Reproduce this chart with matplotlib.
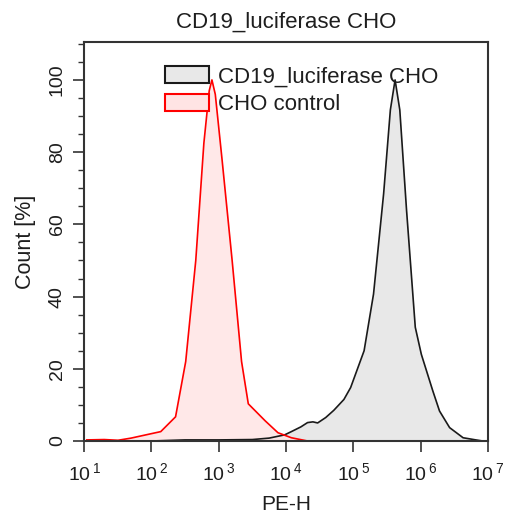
# CD19_luciferase CHO histogram overlay

import matplotlib
matplotlib.use('Agg')
import matplotlib.pyplot as plt
import numpy as np
from matplotlib.ticker import FixedLocator, LogLocator, NullFormatter
from matplotlib.patches import Patch

plt.rcParams['font.family'] = ['Liberation Sans', 'DejaVu Sans']
plt.rcParams['mathtext.fontset'] = 'custom'
plt.rcParams['mathtext.rm'] = 'Liberation Sans'

# CHO control (red)
ctrl_pe = [11, 20, 32, 50, 83, 138, 229, 324, 457, 603, 724, 794, 891,
           1122, 1585, 2188, 2754, 4898, 7586, 12023, 20893]
ctrl_count = [0.3, 0.4, 0.2, 0.8, 1.7, 2.6, 6.7, 22, 50, 82.5, 97, 100, 96,
              78, 50, 22, 10.3, 5.6, 2.3, 0.9, 0]

# CD19_luciferase CHO (black)
cd19_pe = [100, 316, 1000, 3162, 5623, 9550, 12023, 16596, 20893, 25119,
           29512, 38905, 51286, 72444, 91201, 144544, 199526, 281838, 354813,
           416869, 489779, 616595, 831764, 1023293, 1513561, 1905461,
           2691535, 4265795, 6606934, 8317638]
cd19_count = [0, 0.3, 0.3, 0.4, 0.8, 1.7, 2.6, 3.9, 5.1, 5.3,
              5.0, 6.5, 8.5, 11.5, 14.8, 25, 40.7, 68.5, 91.7,
              100, 91.7, 64, 31.5, 24, 13.9, 8.3,
              3.7, 0.9, 0.3, 0]

x_ticks = [10**k for k in range(1, 8)]
x_ticklabels = [r'$\mathregular{10^{\,%d}}$' % k for k in range(1, 8)]
y_ticks = [0, 20, 40, 60, 80, 100]

txt = '#1e1e1e'
fig = plt.figure(figsize=(5.07, 5.19), dpi=100)
ax = fig.add_axes([84/507, 1 - 441/519, 404/507, 399/519])

ax.fill_between(cd19_pe, cd19_count, 0, color='#e8e8e8', lw=0)
ax.fill_between(ctrl_pe, ctrl_count, 0, color='#ffe4e4', lw=0, alpha=0.85)
ax.plot(cd19_pe, cd19_count, color='#1a1a1a', lw=1.2)
ax.plot(ctrl_pe, ctrl_count, color='#ff0000', lw=1.2)

ax.set_xscale('log')
ax.set_xlim(10, 1e7)
ax.set_ylim(0, 110.5)

ax.xaxis.set_major_locator(FixedLocator(x_ticks))
ax.set_xticklabels(x_ticklabels)
ax.xaxis.set_minor_locator(LogLocator(base=10, subs=np.arange(2, 10)))
ax.xaxis.set_minor_formatter(NullFormatter())
ax.set_yticks(y_ticks)
ax.yaxis.set_minor_locator(FixedLocator(np.arange(5, 111, 5)))
for lab in ax.get_yticklabels():
    lab.set_rotation(90)
    lab.set_va('center')

ax.tick_params(which='major', direction='out', length=8, width=1.2,
               labelsize=14, colors='#333333', labelcolor=txt, pad=7)
ax.tick_params(which='minor', direction='out', length=4, width=1.0,
               colors='#333333')
ax.tick_params(axis='y', pad=5)
for s in ax.spines.values():
    s.set_color('#333333')
    s.set_linewidth(1.5)

ax.set_title('CD19_luciferase CHO', fontsize=16, color=txt, pad=10)
ax.set_xlabel('PE-H', fontsize=15, color=txt, labelpad=8)
ax.set_ylabel('Count [%]', fontsize=15.5, color=txt, labelpad=9)

handles = [Patch(facecolor='#e8e8e8', edgecolor='#1a1a1a', lw=1.5),
           Patch(facecolor='#ffe4e4', edgecolor='#ff0000', lw=1.5)]
leg = ax.legend(handles, ['CD19_luciferase CHO', 'CHO control'],
                loc='upper left', bbox_to_anchor=(165/507, 1 - 66/519),
                bbox_transform=fig.transFigure, frameon=False,
                fontsize=16, handlelength=2.0, handleheight=0.8,
                handletextpad=0.4, labelspacing=0.3, borderpad=0,
                borderaxespad=0)
for t in leg.get_texts():
    t.set_color(txt)

fig.savefig('out.png', dpi=100)
